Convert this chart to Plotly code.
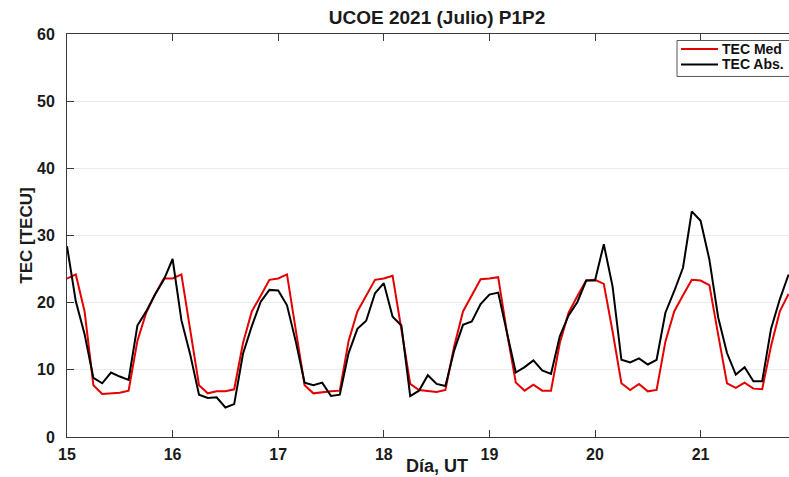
import plotly.graph_objects as go

# Two-hourly samples, 15 to ~22 July 2021 (day of month, UT)
days = [15 + k / 12 for k in range(83)]

tec_med = [
    23.6, 24.2, 18.7, 7.7, 6.4, 6.5, 6.6, 6.9, 14.3, 18.5, 21.2, 23.6,
    23.6, 24.2, 16.0, 7.7, 6.5, 6.8, 6.8, 7.1, 14.0, 18.7, 21.0, 23.4,
    23.6, 24.2, 15.9, 7.7, 6.5, 6.7, 6.8, 6.9, 14.3, 18.7, 21.0, 23.4,
    23.6, 24.0, 16.0, 7.9, 7.0, 6.9, 6.7, 7.0, 13.5, 18.7, 21.0, 23.5,
    23.6, 23.8, 15.5, 8.1, 6.9, 7.8, 6.9, 6.9, 14.0, 18.5, 21.0, 23.3,
    23.4, 22.8, 15.7, 8.0, 7.0, 7.9, 6.8, 7.0, 14.2, 18.7, 21.1, 23.4,
    23.3, 22.6, 15.2, 8.0, 7.3, 8.1, 7.2, 7.1, 13.5, 18.7, 21.3,
]

tec_abs = [
    28.4, 20.2, 15.3, 8.8, 8.0, 9.6, 9.0, 8.5, 16.6, 18.7, 21.2, 23.4,
    26.5, 17.4, 12.3, 6.3, 5.8, 5.9, 4.4, 4.9, 12.4, 16.5, 20.1, 21.9,
    21.8, 19.6, 14.2, 8.1, 7.7, 8.1, 6.1, 6.3, 12.5, 16.1, 17.3, 21.4,
    22.9, 17.9, 16.6, 6.1, 6.9, 9.2, 7.9, 7.6, 12.9, 16.7, 17.2, 19.8,
    21.2, 21.5, 15.5, 9.6, 10.4, 11.4, 9.9, 9.4, 15.0, 18.1, 20.1, 23.3,
    23.3, 28.7, 22.4, 11.5, 11.1, 11.7, 10.8, 11.5, 18.5, 21.7, 25.2, 33.6,
    32.2, 26.4, 17.8, 12.5, 9.3, 10.4, 8.3, 8.3, 16.1, 20.5, 24.2,
]

series_names = ["TEC Med", "TEC Abs."]
series_colors = ["rgb(228,0,0)", "black"]

x_ticks = [15, 16, 17, 18, 19, 20, 21]
y_ticks = [0, 10, 20, 30, 40, 50, 60]

FONT = "Liberation Sans, Arial, sans-serif"
AXIS_COLOR = "#3a3a3a"
TEXT_COLOR = "#1a1a1a"

fig = go.Figure()
for name, values, color in zip(series_names, [tec_med, tec_abs], series_colors):
    fig.add_trace(go.Scatter(
        x=days, y=values, mode="lines", name=name,
        line=dict(color=color, width=2), showlegend=False,
    ))

fig.update_layout(
    width=789, height=477,
    margin=dict(l=67, r=0, t=34, b=40),
    paper_bgcolor="white", plot_bgcolor="white",
    font=dict(family=FONT, color=TEXT_COLOR),
    title=dict(
        text="UCOE 2021 (Julio) P1P2",
        font=dict(family=FONT, size=19, weight="bold", color=TEXT_COLOR),
        x=0.5125, xref="paper", xanchor="center",
        y=0.964, yref="container", yanchor="middle",
    ),
    xaxis=dict(
        range=[15, 15 + 722 / 105.6],
        tickvals=x_ticks, ticktext=[str(v) for v in x_ticks],
        ticks="inside", ticklen=7, tickwidth=1, tickcolor=AXIS_COLOR,
        showline=True, linecolor=AXIS_COLOR, linewidth=1, mirror="ticks",
        showgrid=False, zeroline=False,
        tickfont=dict(family=FONT, size=16, weight="bold", color=TEXT_COLOR),
        ticklabelstandoff=3,
    ),
    yaxis=dict(
        range=[0, 60],
        tickvals=y_ticks, ticktext=[str(v) for v in y_ticks],
        ticks="inside", ticklen=7, tickwidth=1, tickcolor=AXIS_COLOR,
        showline=True, linecolor=AXIS_COLOR, linewidth=1, mirror=False,
        showgrid=True, gridcolor="#ebebeb", gridwidth=1, zeroline=False,
        tickfont=dict(family=FONT, size=16, weight="bold", color=TEXT_COLOR),
        ticklabelstandoff=8,
        title=dict(text="TEC [TECU]", standoff=0,
                   font=dict(family=FONT, size=17, weight="bold", color=TEXT_COLOR)),
    ),
)

fig.add_annotation(
    text="Día, UT", x=0.5125, xref="paper", y=-0.072, yref="paper",
    xanchor="center", yanchor="middle", showarrow=False,
    font=dict(family=FONT, size=18, weight="bold", color=TEXT_COLOR),
)

# Compact legend box in the upper-right corner, running past the right edge
W, H = 722.0, 403.5
def px_x(p):
    return (p - 67) / W
def px_y(p):
    return (437.5 - p) / H

fig.add_shape(type="rect", xref="paper", yref="paper",
              x0=px_x(677), x1=px_x(812), y0=px_y(76.5), y1=px_y(40.5),
              line=dict(color="#555555", width=1), fillcolor="white", layer="above")
for i, (name, color) in enumerate(zip(series_names, series_colors)):
    row_y = px_y(49 + 15.5 * i)
    fig.add_shape(type="line", xref="paper", yref="paper",
                  x0=px_x(681), x1=px_x(718), y0=row_y, y1=row_y,
                  line=dict(color=color, width=2), layer="above")
    fig.add_annotation(text=name, x=px_x(721), y=row_y, xref="paper", yref="paper",
                       xanchor="left", yanchor="middle", showarrow=False,
                       borderpad=0,
                       font=dict(family=FONT, size=14, weight="bold", color="#111111"))

fig.write_html("out.html")
